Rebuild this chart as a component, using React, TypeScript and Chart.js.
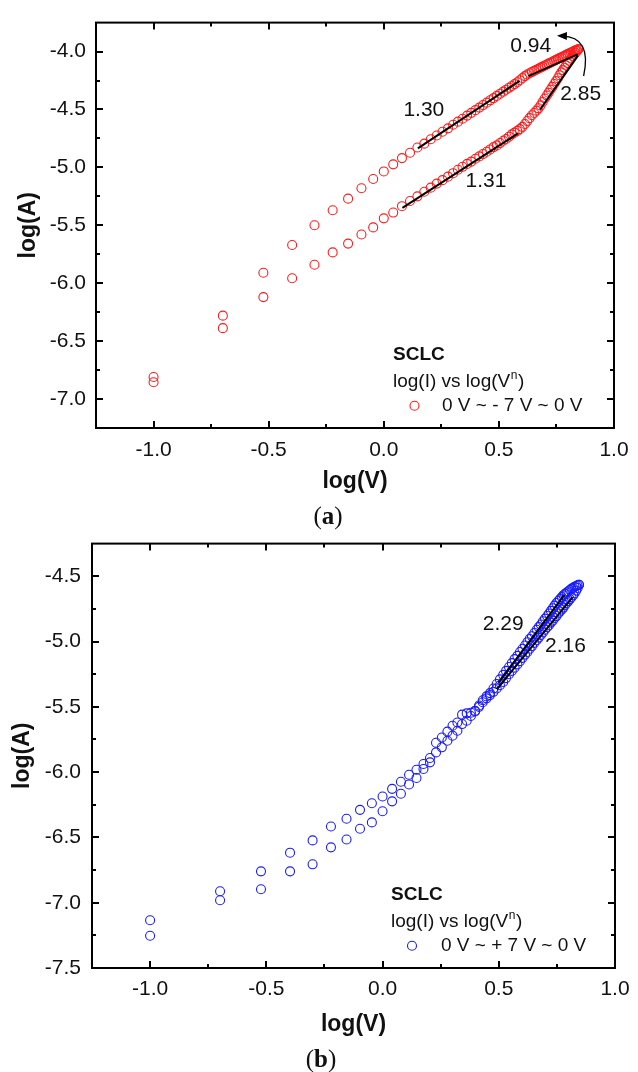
import React, { useEffect, useRef } from 'react';
import { Chart, registerables } from 'chart.js';
Chart.register(...registerables);

// ---------- data ----------
const xLogV = [
  -1.0, -0.699, -0.523, -0.398, -0.301, -0.222, -0.155, -0.097, -0.046, 0.0,
  0.041, 0.079, 0.114, 0.146, 0.176, 0.204, 0.23, 0.255, 0.279, 0.301,
  0.322, 0.342, 0.362, 0.38, 0.398, 0.415, 0.431, 0.447, 0.462, 0.477,
  0.491, 0.505, 0.519, 0.531, 0.544, 0.556, 0.568, 0.58, 0.591, 0.602,
  0.613, 0.623, 0.633, 0.643, 0.653, 0.663, 0.672, 0.681, 0.69, 0.699,
  0.708, 0.716, 0.724, 0.732, 0.74, 0.748, 0.756, 0.763, 0.771, 0.778,
  0.785, 0.792, 0.799, 0.806, 0.813, 0.82, 0.826, 0.833, 0.839, 0.845,
];

const aUpper = [
  -6.81, -6.28, -5.91, -5.67, -5.5, -5.37, -5.27, -5.18, -5.1, -5.035,
  -4.974, -4.92, -4.874, -4.828, -4.795, -4.757, -4.725, -4.692, -4.663, -4.632,
  -4.605, -4.58, -4.553, -4.529, -4.506, -4.484, -4.462, -4.441, -4.421, -4.402,
  -4.383, -4.364, -4.346, -4.33, -4.313, -4.297, -4.281, -4.265, -4.248, -4.228,
  -4.212, -4.198, -4.187, -4.177, -4.167, -4.157, -4.148, -4.139, -4.13, -4.121,
  -4.112, -4.104, -4.096, -4.088, -4.08, -4.072, -4.064, -4.057, -4.05, -4.043,
  -4.036, -4.029, -4.022, -4.015, -4.008, -4.002, -3.996, -3.99, -3.985, -3.98,
];

const aLower = [
  -6.855, -6.388, -6.12, -5.957, -5.841, -5.734, -5.658, -5.579, -5.518, -5.44,
  -5.39, -5.335, -5.29, -5.25, -5.21, -5.175, -5.14, -5.11, -5.08, -5.05,
  -5.02, -4.995, -4.97, -4.95, -4.925, -4.905, -4.885, -4.865, -4.845, -4.825,
  -4.81, -4.79, -4.77, -4.755, -4.735, -4.715, -4.7, -4.685, -4.67, -4.65,
  -4.625, -4.6, -4.575, -4.55, -4.53, -4.51, -4.49, -4.465, -4.435, -4.405,
  -4.38, -4.355, -4.33, -4.305, -4.28, -4.255, -4.23, -4.205, -4.18, -4.16,
  -4.14, -4.12, -4.1, -4.08, -4.06, -4.04, -4.025, -4.01, -3.995, -3.98,
];

const bUpper = [
  -7.134, -6.912, -6.76, -6.617, -6.523, -6.416, -6.357, -6.289, -6.238, -6.187,
  -6.128, -6.074, -6.02, -5.982, -5.938, -5.892, -5.775, -5.735, -5.69, -5.645,
  -5.62, -5.56, -5.55, -5.545, -5.53, -5.49, -5.45, -5.42, -5.395, -5.36,
  -5.325, -5.29, -5.255, -5.225, -5.195, -5.165, -5.135, -5.11, -5.08, -5.055,
  -5.03, -5.005, -4.98, -4.96, -4.935, -4.91, -4.89, -4.87, -4.845, -4.825,
  -4.805, -4.785, -4.765, -4.745, -4.725, -4.705, -4.69, -4.675, -4.66, -4.645,
  -4.635, -4.625, -4.615, -4.605, -4.595, -4.59, -4.58, -4.575, -4.57, -4.565,
];

const bLower = [
  -7.253, -6.981, -6.897, -6.76, -6.706, -6.576, -6.516, -6.434, -6.385, -6.3,
  -6.224, -6.166, -6.095, -6.045, -5.976, -5.925, -5.849, -5.81, -5.76, -5.721,
  -5.683, -5.632, -5.607, -5.57, -5.535, -5.5, -5.465, -5.435, -5.41, -5.385,
  -5.36, -5.335, -5.31, -5.28, -5.25, -5.225, -5.2, -5.175, -5.15, -5.125,
  -5.1, -5.08, -5.055, -5.035, -5.01, -4.99, -4.97, -4.95, -4.93, -4.91,
  -4.89, -4.875, -4.855, -4.84, -4.82, -4.805, -4.785, -4.77, -4.755, -4.74,
  -4.72, -4.705, -4.69, -4.675, -4.66, -4.645, -4.63, -4.61, -4.59, -4.565,
];

// fitted lines (x, y) endpoints
const aFit130 = [[0.148, -4.836], [0.59, -4.253]];
const aFit094 = [[0.628, -4.212], [0.842, -4.025]];
const aFit285 = [[0.679, -4.5], [0.843, -4.035]];
const aFit131 = [[0.081, -5.349], [0.583, -4.707]];
const bFit229 = [[0.499, -5.314], [0.783, -4.64]];
const bFit216 = [[0.492, -5.365], [0.818, -4.66]];

// tick values
const xTicks = [-1.0, -0.5, 0.0, 0.5, 1.0];
const xMinorTicks = [-0.75, -0.25, 0.25, 0.75];
const aYTicks = [-7.0, -6.5, -6.0, -5.5, -5.0, -4.5, -4.0];
const aYMinorTicks = [-6.75, -6.25, -5.75, -5.25, -4.75, -4.25];
const bYTicks = [-7.5, -7.0, -6.5, -6.0, -5.5, -5.0, -4.5];
const bYMinorTicks = [-7.25, -6.75, -6.25, -5.75, -5.25, -4.75];

// annotation texts (slope labels) in data coordinates
const aSlopeLabels = [
  { text: '0.94', x: 0.638, y: -3.95 },
  { text: '1.30', x: 0.174, y: -4.503 },
  { text: '2.85', x: 0.855, y: -4.372 },
  { text: '1.31', x: 0.444, y: -5.115 },
];
const bSlopeLabels = [
  { text: '2.29', x: 0.519, y: -4.866 },
  { text: '2.16', x: 0.787, y: -5.034 },
];
// curved arrow in (a): start, control, end
const aArrow = [[0.868, -4.211], [0.905, -3.87], [0.752, -3.864]];

const SANS = '"Liberation Sans", Arial, Helvetica, sans-serif';

function toPts(xs: number[], ys: number[]) {
  return xs.map((x, i) => ({ x, y: ys[i] }));
}
function fitPts(f: number[][]) {
  return f.map(([x, y]) => ({ x, y }));
}

function makePlugins(o: any) {
  return [
    {
      id: 'frameTicks',
      afterDraw(chart: any) {
        const { ctx, chartArea: a, scales } = chart;
        const xs = scales.x, ys = scales.y;
        ctx.save();
        ctx.strokeStyle = '#000';
        ctx.lineWidth = 2;
        ctx.strokeRect(a.left, a.top, a.right - a.left, a.bottom - a.top);
        const tick = (vals: number[], len: number, lw: number) => {
          ctx.lineWidth = lw;
          ctx.beginPath();
          vals.forEach((v) => {
            if (v <= o.xMin || v >= o.xMax) return;
            const px = Math.round(xs.getPixelForValue(v));
            ctx.moveTo(px, a.bottom);
            ctx.lineTo(px, a.bottom - len);
            ctx.moveTo(px, a.top);
            ctx.lineTo(px, a.top + len);
          });
          ctx.stroke();
        };
        const ytick = (vals: number[], len: number, lw: number) => {
          ctx.lineWidth = lw;
          ctx.beginPath();
          vals.forEach((v) => {
            if (v <= o.yMin || v >= o.yMax) return;
            const py = Math.round(ys.getPixelForValue(v));
            ctx.moveTo(a.left, py);
            ctx.lineTo(a.left + len, py);
            ctx.moveTo(a.right, py);
            ctx.lineTo(a.right - len, py);
          });
          ctx.stroke();
        };
        tick(xTicks, 7, 2);
        tick(xMinorTicks, 4, 2);
        ytick(o.yTicks, 7, 2);
        ytick(o.yMinor, 4, 2);
        ctx.restore();
      },
    },
    {
      id: 'annot',
      afterDraw(chart: any) {
        const { ctx, chartArea: a, scales } = chart;
        const xs = scales.x, ys = scales.y;
        ctx.save();
        ctx.fillStyle = '#111';
        ctx.font = `21px ${SANS}`;
        ctx.textAlign = 'center';
        ctx.textBaseline = 'middle';
        o.labels.forEach((l: any) => {
          ctx.fillText(l.text, xs.getPixelForValue(l.x), ys.getPixelForValue(l.y));
        });
        if (o.arrow) {
          const p = o.arrow.map(([x, y]: number[]) => [xs.getPixelForValue(x), ys.getPixelForValue(y)]);
          ctx.strokeStyle = '#000';
          ctx.lineWidth = 1.3;
          ctx.beginPath();
          ctx.moveTo(p[0][0], p[0][1]);
          ctx.quadraticCurveTo(p[1][0], p[1][1], p[2][0] + 5, p[2][1] + 0.3);
          ctx.stroke();
          const ang = Math.atan2(p[2][1] - p[1][1], p[2][0] - p[1][0]);
          const L = 10, W = 4;
          ctx.fillStyle = '#000';
          ctx.beginPath();
          ctx.moveTo(p[2][0], p[2][1]);
          ctx.lineTo(p[2][0] - L * Math.cos(ang) - W * Math.sin(ang), p[2][1] - L * Math.sin(ang) + W * Math.cos(ang));
          ctx.lineTo(p[2][0] - L * Math.cos(ang) + W * Math.sin(ang), p[2][1] - L * Math.sin(ang) - W * Math.cos(ang));
          ctx.closePath();
          ctx.fill();
        }
        // legend block
        const r = a.right, b = a.bottom;
        ctx.textAlign = 'left';
        ctx.fillStyle = '#111';
        ctx.font = `bold 19px ${SANS}`;
        ctx.fillText('SCLC', r + o.legDx, b - 73.5);
        ctx.font = `19px ${SANS}`;
        const s1 = 'log(I) vs log(V';
        const x1 = r + o.legDx;
        const y1 = b - 46;
        ctx.fillText(s1, x1, y1);
        const w1 = ctx.measureText(s1).width;
        ctx.font = `12px ${SANS}`;
        ctx.fillText('n', x1 + w1 + 0.5, y1 - 6);
        const wn = ctx.measureText('n').width;
        ctx.font = `19px ${SANS}`;
        ctx.fillText(')', x1 + w1 + wn + 1, y1);
        const y2 = b - 22.3;
        ctx.strokeStyle = o.color;
        ctx.lineWidth = 1.1;
        ctx.beginPath();
        ctx.arc(r + o.legMarkDx, y2, 4.5, 0, Math.PI * 2);
        ctx.stroke();
        ctx.fillText(o.legText, r + o.legTextDx, y2);
        ctx.restore();
      },
    },
  ];
}

function makeConfig(o: any) {
  const tickFont = { family: SANS, size: 21 };
  const titleFont = { family: SANS, size: 23, weight: 'bold' };
  const ds = (ys: number[]) => ({
    data: toPts(xLogV, ys),
    showLine: false,
    pointStyle: 'circle',
    pointRadius: 4.5,
    pointBorderWidth: 1.1,
    borderColor: o.color,
    backgroundColor: 'rgba(0,0,0,0)',
    pointBackgroundColor: 'rgba(0,0,0,0)',
    order: 1,
  });
  const fit = (f: number[][]) => ({
    data: fitPts(f),
    showLine: true,
    pointRadius: 0,
    borderColor: '#000',
    borderWidth: 2,
    order: -1,
  });
  return {
    type: 'scatter',
    data: {
      datasets: [...o.fits.map(fit), ds(o.upper), ds(o.lower)],
    },
    options: {
      animation: false,
      responsive: false,
      layout: { padding: o.pad },
      plugins: { legend: { display: false }, tooltip: { enabled: false } },
      scales: {
        x: {
          type: 'linear',
          min: o.xMin,
          max: o.xMax,
          afterBuildTicks: (s: any) => {
            s.ticks = xTicks.map((v) => ({ value: v }));
          },
          afterFit: (s: any) => {
            s.height = o.xAxisH;
          },
          grid: { display: false, drawTicks: false },
          border: { display: false },
          ticks: {
            font: tickFont,
            color: '#111',
            padding: o.xTickPad,
            maxRotation: 0,
            autoSkip: false,
            callback: (v: any) => Number(v).toFixed(1),
          },
          title: {
            display: true,
            text: 'log(V)',
            font: titleFont,
            color: '#111',
            padding: { top: 0, bottom: o.xTitlePad },
          },
        },
        y: {
          type: 'linear',
          min: o.yMin,
          max: o.yMax,
          afterBuildTicks: (s: any) => {
            s.ticks = o.yTicks.map((v: number) => ({ value: v }));
          },
          afterFit: (s: any) => {
            s.width = o.yAxisW;
          },
          grid: { display: false, drawTicks: false },
          border: { display: false },
          ticks: {
            font: tickFont,
            color: '#111',
            padding: o.yTickPad,
            autoSkip: false,
            callback: (v: any) => Number(v).toFixed(1),
          },
          title: {
            display: true,
            text: 'log(A)',
            font: titleFont,
            color: '#111',
            padding: { top: o.yTitlePad, bottom: 0 },
          },
        },
      },
    },
    plugins: makePlugins(o),
  };
}

const cfgA = {
  color: '#ff1a1a',
  upper: aUpper,
  lower: aLower,
  fits: [aFit130, aFit094, aFit285, aFit131],
  labels: aSlopeLabels,
  arrow: aArrow,
  xMin: -1.25, xMax: 1.0, yMin: -7.25, yMax: -3.75,
  yTicks: aYTicks, yMinor: aYMinorTicks,
  pad: { left: 0, top: 14, right: 23, bottom: 0 },
  yAxisW: 96, xAxisH: 92,
  yTickPad: 10, xTickPad: 9.4, yTitlePad: 15.2, xTitlePad: 24.2,
  legDx: -221, legMarkDx: -199.5, legTextDx: -172,
  legText: '0 V ~ - 7 V ~ 0 V',
};

const cfgB = {
  color: '#1a1aff',
  upper: bUpper,
  lower: bLower,
  fits: [bFit229, bFit216],
  labels: bSlopeLabels,
  arrow: null,
  xMin: -1.25, xMax: 1.0, yMin: -7.5, yMax: -4.25,
  yTicks: bYTicks, yMinor: bYMinorTicks,
  pad: { left: 0, top: 23, right: 18, bottom: 0 },
  yAxisW: 92, xAxisH: 104,
  yTickPad: 11, xTickPad: 8.4, yTitlePad: 9.2, xTitlePad: 33.2,
  legDx: -224, legMarkDx: -203, legTextDx: -174,
  legText: '0 V ~ + 7 V ~ 0 V',
};

function ChartCanvas({ cfg, width, height, top }: any) {
  const ref = useRef<HTMLCanvasElement>(null);
  useEffect(() => {
    if (!ref.current) return;
    const chart = new Chart(ref.current, makeConfig(cfg) as any);
    return () => chart.destroy();
  }, [cfg]);
  return (
    <canvas
      ref={ref}
      width={width}
      height={height}
      style={{ position: 'absolute', left: 0, top, width, height, display: 'block' }}
    />
  );
}

const capStyle: any = {
  position: 'absolute',
  width: 60,
  textAlign: 'center',
  font: '25px "Liberation Serif", "DejaVu Serif", serif',
  lineHeight: '28px',
  color: '#111',
};

export default function App() {
  return (
    <div style={{ position: 'absolute', left: 0, top: 0, width: 638, height: 1072, background: '#fff', overflow: 'hidden' }}>
      <ChartCanvas cfg={cfgA} width={638} height={520} top={0} />
      <ChartCanvas cfg={cfgB} width={638} height={552} top={520} />
      <div style={{ ...capStyle, left: 298, top: 502 }}>
        (<b>a</b>)
      </div>
      <div style={{ ...capStyle, left: 291, top: 1045 }}>
        (<b>b</b>)
      </div>
    </div>
  );
}
